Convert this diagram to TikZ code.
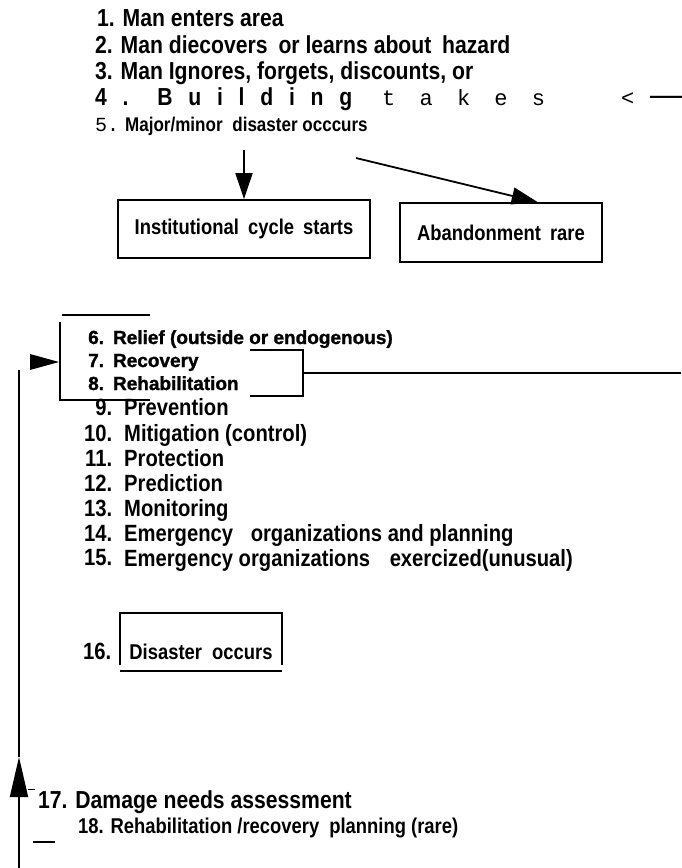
\documentclass[tikz,border=0pt]{standalone}
\usepackage{fontspec}
\setmainfont{Liberation Sans}
\newfontfamily\nb{Liberation Sans}[UprightFont={* Bold},FakeStretch=0.86]
\newfontfamily\hv{Liberation Sans}[UprightFont={* Bold},FakeBold=1.4]
\newfontfamily\mn{Liberation Mono}
\usetikzlibrary{arrows.meta,calc}
\newcommand\numbox[1]{\makebox[28pt][r]{#1}\hspace{12pt}}
\begin{document}
\begin{tikzpicture}[x=1pt,y=-1pt,
  ln/.style={anchor=base west,inner sep=0pt,font=\nb\fontsize{24.6}{28}\selectfont},
  it/.style={anchor=base west,inner sep=0pt,font=\nb\fontsize{23.5}{27}\selectfont},
  hl/.style={anchor=base west,inner sep=0pt,font=\hv\fontsize{19}{22}\selectfont},
  mono/.style={anchor=base west,inner sep=0pt,font=\mn\fontsize{20}{24}\selectfont},
  bx/.style={draw,line width=1.8pt,inner sep=0pt,font=\nb\fontsize{21.4}{25}\selectfont},
  arr/.style={line width=1.8pt,-{Triangle[length=26pt,width=17pt]}},
  uarr/.style={line width=1.8pt,-{Triangle[length=40pt,width=18pt]}},
  rule/.style={line width=1.8pt}]
\useasboundingbox (0,0) rectangle (681,868);

% top list
\node[ln] (l1) at (97,26) {1. Man enters area};
\node[ln] (l2) at (95,53) {2. Man diecovers\hspace{5pt} or learns about\hspace{5pt} hazard};
\node[ln] (l3) at (95,79) {3. Man Ignores, forgets, discounts, or};
\node[ln,font=\nb\fontsize{24.6}{28}\selectfont\addfontfeature{LetterSpace=64}] (l4a) at (95,105) {4. Building};
\node[mono,font=\mn\fontsize{22}{26}\selectfont\addfontfeature{LetterSpace=110}] (l4b) at (382,105) {takes};
\node[mono,font=\mn\fontsize{22}{26}\selectfont] (l4c) at (621,105) {<};
\node[anchor=base west,inner sep=0pt,font=\fontsize{32}{32}\selectfont] (l4d) at (650,105) {—};
\node[mono] (l5n) at (95,131) {5.};
\node[ln,font=\nb\fontsize{19.8}{23}\selectfont] (l5) at (125,131) {Major/minor\hspace{5pt} disaster occcurs};

% boxes
\node[bx,minimum width=252pt,minimum height=58pt] (box1) at (244,229) {Institutional\hspace{4pt} cycle\hspace{4pt} starts};
\node[bx,minimum width=202pt,minimum height=59pt] (box2) at (501,232.5) {Abandonment\hspace{4pt} rare};

\coordinate (a1y) at (0,150);
\coordinate (a1s) at (box1.north |- a1y);
\draw[arr] (a1s) -- (box1.north);
\coordinate (a2s) at (356,158);
\coordinate (a2e) at ($(box2.north west)!0.68!(box2.north east)$);
\draw[arr] (a2s) -- (a2e);

% left bracket for 6-8
\coordinate (tb1) at (62,315);
\coordinate (tb2) at (150,315);
\draw[rule] (tb1) -- (tb2);
\coordinate (lb1) at (60,322);
\coordinate (lb2) at (60,400);
\coordinate (lb3) at (150,400);
\draw[rule] (lb1) -- (lb2) -- (lb3);
\fill (30,354) -- (59,362) -- (30,370) -- cycle;

\node[hl] (i6) at (88,344) {6.\hspace{9pt}Relief (outside or endogenous)};
\node[hl] (i7) at (88,367) {7.\hspace{9pt}Recovery};
\node[hl] (i8) at (88,390) {8.\hspace{9pt}Rehabilitation};

% right bracket for 7-8
\coordinate (rb1) at (250,350);
\coordinate (rb2) at (303,350);
\coordinate (rb3) at (303,396);
\coordinate (rb4) at (250,396);
\draw[rule] (rb1) -- (rb2) -- (rb3) -- (rb4);
\coordinate (rm) at (303,373);
\coordinate (re) at (681,373);
\draw[rule] (rm) -- (re);

% items 9-15
\node[it] (i9) at (84,415) {\numbox{9.}Prevention};
\node[it] (i10) at (84,441) {\numbox{10.}Mitigation (control)};
\node[it] (i11) at (84,466) {\numbox{11.}Protection};
\node[it] (i12) at (84,491) {\numbox{12.}Prediction};
\node[it] (i13) at (84,516) {\numbox{13.}Monitoring};
\node[it] (i14) at (84,541) {\numbox{14.}Emergency\hspace{12pt} organizations and planning};
\node[it] (i15) at (84,566) {\numbox{\raisebox{1pt}{15.}}Emergency organizations\hspace{14pt} exercized(unusual)};

% disaster box
\node[it] (n16) at (83,659) {16.};
\node[inner sep=0pt,minimum width=162pt,text height=46pt,text depth=6pt,font=\nb\fontsize{21.4}{25}\selectfont] (dis) at (201,639) {Disaster\hspace{5pt} occurs};
\draw[rule] (dis.south west) -- (dis.north west) -- (dis.north east) -- (dis.south east);
\draw[line width=2.5pt] ([yshift=-6pt]dis.south west) -- ([yshift=-6pt]dis.south east);

% left return line
\coordinate (lv0) at (19,868);
\coordinate (lvtip) at (19,757);
\coordinate (lvtop) at (19,370);
\draw[uarr] (lv0) -- (lvtip);
\draw[rule] (lvtip) -- (lvtop);

% items 17-18
\draw[line width=1pt] (28,789) -- (35,789);
\node[ln] (i17) at (38,808) {17. Damage needs assessment};
\node[ln,font=\nb\fontsize{21.4}{25}\selectfont] (i18) at (78,833) {18. Rehabilitation /recovery\hspace{5pt} planning (rare)};
\draw[line width=2.5pt] (33,842) -- (55,842);
\end{tikzpicture}
\end{document}
